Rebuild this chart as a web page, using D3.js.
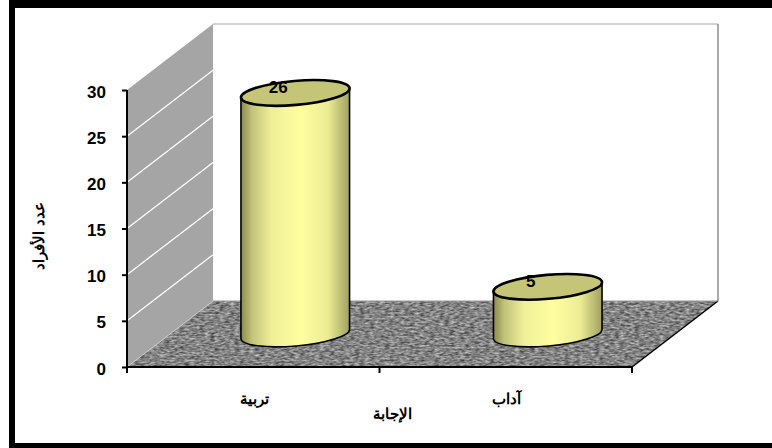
<!DOCTYPE html>
<html><head><meta charset="utf-8">
<script src="https://cdn.jsdelivr.net/npm/d3@7"></script>
<style>html,body{margin:0;padding:0;background:#fff}svg{display:block}text{font-family:"Liberation Sans",Arial,sans-serif;font-weight:bold;fill:#000}</style>
</head><body><svg id="c" width="772" height="448"></svg>
<script>
const categories = ["تربية","آداب"];
const values = [26,5];
const yTicks = [0,5,10,15,20,25,30];
const xTitle = "الإجابة";
const yTitle = "عدد الأفراد";

const svg = d3.select("#c");
const W=772,H=448;
const dx=86, dy=-66;
const x0=127, x1=632, y0=367, y30=90;
const y = d3.scaleLinear().domain([0,30]).range([y0,y30]);
const x = d3.scaleBand().domain(categories).range([x0,x1]);

const defs = svg.append("defs");
const g = defs.append("linearGradient").attr("id","cyl");
[[0,"#8a8a50"],[0.1,"#c2c27a"],[0.28,"#efef98"],[0.55,"#ffff9f"],[0.8,"#ecec94"],[1,"#a0a062"]].forEach(s=>g.append("stop").attr("offset",s[0]).attr("stop-color",s[1]));
const f = defs.append("filter").attr("id","grain").attr("x",0).attr("y",0).attr("width",1).attr("height",1).attr("color-interpolation-filters","sRGB");
f.append("feTurbulence").attr("type","fractalNoise").attr("baseFrequency","0.2 0.55").attr("numOctaves",2).attr("seed",4).attr("result","n");
f.append("feColorMatrix").attr("in","n").attr("type","matrix").attr("values","0 0 0 0.75 0.14  0 0 0 0.75 0.14  0 0 0 0.75 0.14  0 0 0 0 1");
f.append("feGaussianBlur").attr("stdDeviation",0.5);
const clip = defs.append("clipPath").attr("id","floorClip");
clip.append("path").attr("d",`M${x0},${y0}L${x1},${y0}L${x1+dx},${y0+dy}L${x0+dx},${y0+dy}Z`);

// frame: the right side runs off the picture
svg.append("path").attr("d",`M${W},0H9V${H}H${W}V443H15V8H${W}Z`).attr("fill","#000");

// back wall edges
svg.append("path").attr("d",`M${x0+dx},${y30+dy}H${x1+dx}`).attr("fill","none").attr("stroke","#c4c4c4").attr("stroke-width",1.5);
svg.append("path").attr("d",`M${x1+dx},${y30+dy}V${y0+dy}`).attr("fill","none").attr("stroke","#8c8c8c").attr("stroke-width",1.5);
// side wall
svg.append("path").attr("d",`M${x0},${y0}L${x0+dx},${y0+dy}V${y30+dy}L${x0},${y30}Z`).attr("fill","#a5a5a5");
svg.selectAll("line.grid").data(yTicks.filter(d=>d>0&&d<30)).join("line").attr("class","grid")
 .attr("x1",x0).attr("x2",x0+dx).attr("y1",d=>y(d)).attr("y2",d=>y(d)+dy).attr("stroke","#fff").attr("stroke-width",1.3);
// floor
svg.append("g").attr("clip-path","url(#floorClip)").append("rect").attr("x",x0).attr("y",y0+dy).attr("width",x1+dx-x0).attr("height",-dy).attr("filter","url(#grain)");
svg.append("path").attr("d",`M${x0},${y0}L${x0+dx},${y0+dy}`).attr("stroke","#ccc").attr("stroke-width",1);
svg.append("path").attr("d",`M${x1},${y0}L${x1+dx},${y0+dy}`).attr("stroke","#000").attr("stroke-width",1.5);
svg.append("path").attr("d",`M${x0+dx},${y0+dy}H${x1+dx}`).attr("stroke","#999").attr("stroke-width",1);

// axes
const ay = svg.append("g").attr("transform",`translate(${x0},0)`).call(d3.axisLeft(y).tickValues(yTicks).tickSize(5).tickPadding(16));
ay.selectAll("text").style("font-size","17px").attr("dy","0.42em");
ay.select(".domain").attr("stroke-width",2).attr("d",`M0,${y30}V${y0+5}`);
ay.selectAll("line").attr("stroke-width",2);
const ax = svg.append("g").attr("transform",`translate(0,${y0})`);
ax.append("line").attr("x1",x0).attr("x2",x1).attr("stroke","#000").attr("stroke-width",2);
ax.selectAll("line.t").data(d3.range(0,categories.length+1)).join("line").attr("class","t")
 .attr("x1",i=>x0+i*x.bandwidth()).attr("x2",i=>x0+i*x.bandwidth()).attr("y1",0).attr("y2",6).attr("stroke","#000").attr("stroke-width",2);
svg.selectAll("text.cat").data(categories).join("text").attr("class","cat")
 .attr("x",d=>x(d)+x.bandwidth()/2+1).attr("y",404).attr("text-anchor","middle").style("font-size","15px").attr("direction","rtl").text(d=>d);
svg.append("text").attr("x",392).attr("y",419).attr("text-anchor","middle").style("font-size","15px").attr("direction","rtl").text(xTitle);
svg.append("text").attr("transform","translate(44,236) rotate(-90)").attr("text-anchor","middle").style("font-size","14.5px").attr("direction","rtl").text(yTitle);

// cylinders
const rx=54.5, ry=12, tilt=-5;
categories.forEach((c,i)=>{
  const cx=x(c)+x.bandwidth()/2+dx/2-1;
  const yb=y(0)+dy/2, yt=y(values[i])+dy/2-1;
  const gc=svg.append("g");
  const ca=Math.cos(tilt*Math.PI/180), sa=Math.sin(tilt*Math.PI/180);
  const ex=rx*ca, ey=rx*sa;
  gc.append("path").attr("d",`M${cx-ex},${yt-ey}L${cx-ex},${yb-ey}A${rx},${ry} ${tilt} 0 0 ${cx+ex},${yb+ey}L${cx+ex},${yt+ey}Z`)
    .attr("fill","url(#cyl)").attr("stroke","#000").attr("stroke-width",1.6);
  gc.append("ellipse").attr("cx",cx).attr("cy",yt).attr("rx",rx).attr("ry",ry).attr("transform",`rotate(${tilt} ${cx} ${yt})`)
    .attr("fill","#c5c578").attr("stroke","#000").attr("stroke-width",2.6);
  svg.append("text").attr("x",cx-17).attr("y",yt).attr("text-anchor","middle").style("font-size","17px").text(values[i]);
});
</script></body></html>
